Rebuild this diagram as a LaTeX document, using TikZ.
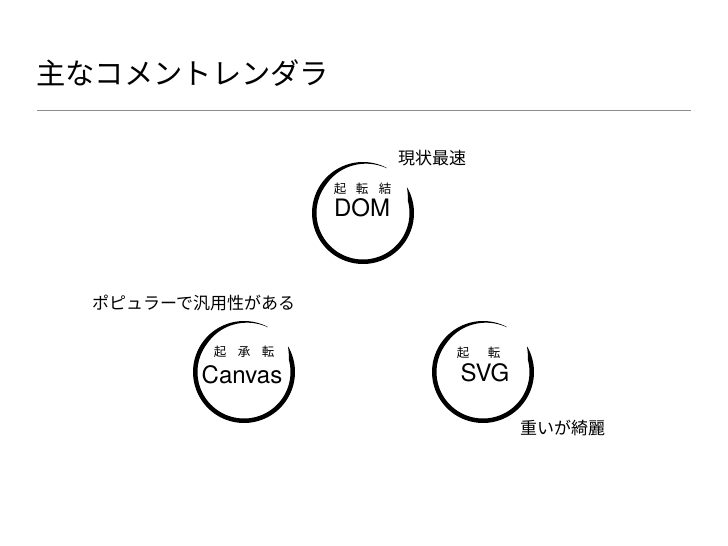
\documentclass[tikz,border=0pt]{standalone}
\usepackage{fontspec}
\setmainfont{TeX Gyre Heros}
\newfontfamily\cjk{Noto Sans CJK JP}
\begin{document}
\begin{tikzpicture}[x=1pt,y=-1pt,
  lbl/.style={font=\cjk\fontsize{17}{19}\selectfont, inner sep=0pt, anchor=west},
  big/.style={font=\fontsize{24}{26}\selectfont, inner sep=0pt},
  small/.style={font=\cjk\fontsize{12.5}{13}\selectfont, inner sep=0pt, text=black},
  hub/.style={circle, minimum size=102pt, inner sep=0pt}]
\useasboundingbox (0,0) rectangle (728,546);
\newcommand{\ensostroke}[3]{%
  \fill[black] plot[domain=62:390,samples=90] ({#1+#3*cos(\x)},{#2-#3*sin(\x)})
    -- plot[domain=390:62,samples=90] ({#1+(#3-0.3-4.2*min(1,(\x-62)/80)*min(1,(390-\x)/14))*cos(\x)},{#2-(#3-0.3-4.2*min(1,(\x-62)/80)*min(1,(390-\x)/14))*sin(\x)}) -- cycle;}
% title
\node[font=\cjk\fontsize{29.3}{31}\selectfont, inner sep=0pt, anchor=west] (title) at (36,73) {主なコメントレンダラ};
\coordinate (ruleL) at (37,110);
\coordinate (ruleR) at (691,110);
\draw[black!45, line width=0.8pt] (ruleL) -- (ruleR);
% hubs
\node[hub] (dom) at (363,213) {};
\node[hub] (canvas) at (244,372) {};
\node[hub] (svg) at (483,372) {};
\ensostroke{363}{213}{51}
\ensostroke{244}{372}{51}
\ensostroke{483}{372}{51}
% DOM
\node[big] (domt) at (362,208) {DOM};
\node[small] (d1) at (340,189) {起};
\node[small] (d2) at (362,189) {転};
\node[small] (d3) at (385,189) {結};
% Canvas
\node[big] (canvast) at (242,375) {Canvas};
\node[small] (c1) at (220,352) {起};
\node[small] (c2) at (244,352) {承};
\node[small] (c3) at (268,352) {転};
% SVG
\node[big] (svgt) at (485,373) {SVG};
\node[small] (s1) at (463,353) {起};
\node[small] (s2) at (494,353) {転};
% labels
\node[lbl] (l1) at (398,158) {現状最速};
\node[lbl] (l2) at (92,303) {ポピュラーで汎用性がある};
\node[lbl] (l3) at (520,428) {重いが綺麗};
\end{tikzpicture}
\end{document}
